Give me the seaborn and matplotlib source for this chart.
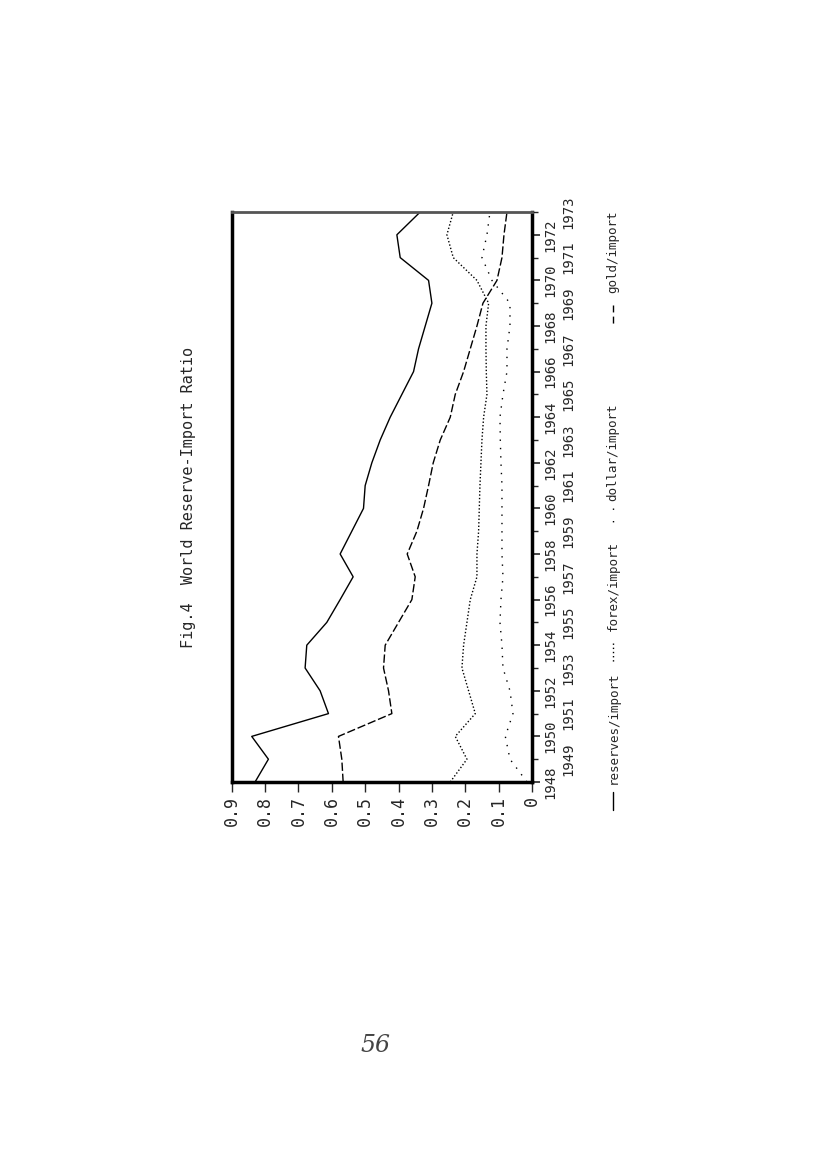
import numpy as np
import pandas as pd
import seaborn as sns
import matplotlib.pyplot as plt
from matplotlib.lines import Line2D

# data (chart printed sideways)
years = list(range(1948, 1974))
reserves = [0.83, 0.79, 0.84, 0.61, 0.635, 0.68, 0.675, 0.615, 0.575, 0.536, 0.575, 0.54, 0.505,
            0.50, 0.48, 0.455, 0.425, 0.39, 0.355, 0.34, 0.32, 0.30, 0.31, 0.395, 0.405, 0.335]
forex = [0.245, 0.195, 0.23, 0.17, 0.19, 0.21, 0.205, 0.195, 0.185, 0.165, 0.165, 0.16, 0.158,
         0.156, 0.153, 0.15, 0.145, 0.135, 0.137, 0.138, 0.138, 0.13, 0.165, 0.236, 0.255, 0.236]
dollar = [0.015, 0.066, 0.08, 0.057, 0.066, 0.087, 0.09, 0.096, 0.093, 0.087, 0.09, 0.09, 0.09,
          0.09, 0.093, 0.095, 0.096, 0.087, 0.075, 0.075, 0.066, 0.066, 0.12, 0.15, 0.135, 0.126]
gold = [0.566, 0.57, 0.58, 0.42, 0.43, 0.445, 0.44, 0.40, 0.36, 0.35, 0.374, 0.345, 0.325,
        0.31, 0.296, 0.275, 0.245, 0.23, 0.205, 0.185, 0.165, 0.147, 0.105, 0.09, 0.084, 0.075]

value_ticks = [0.9, 0.8, 0.7, 0.6, 0.5, 0.4, 0.3, 0.2, 0.1, 0]
value_labels = ['0.9', '0.8', '0.7', '0.6', '0.5', '0.4', '0.3', '0.2', '0.1', '0']
series_names = ['reserves/import', 'forex/import', 'dollar/import', 'gold/import']

df = pd.DataFrame({'year': years, 'reserves/import': reserves, 'forex/import': forex,
                   'dollar/import': dollar, 'gold/import': gold})

sns.set_style('white')
plt.rcParams['font.family'] = ['DejaVu Sans Mono', 'DejaVu Sans']

fig = plt.figure(figsize=(8.27, 11.70), dpi=100)
ax = fig.add_axes([231.7 / 827, 388 / 1170, 300.3 / 827, 570 / 1170])

styles = {
    'reserves/import': '-',
    'forex/import': (0, (1, 1.5)),
    'dollar/import': (0, (1, 5)),
    'gold/import': (0, (6, 2)),
}
# chart is turned sideways: value runs along x, year along y
for name in series_names:
    sns.lineplot(x=df[name], y=df['year'], ax=ax, color='black', lw=1.0,
                 linestyle=styles[name], sort=False, estimator=None)

ax.set_xlim(0.9, 0)
ax.set_ylim(1948, 1973)
ax.set_xlabel('')
ax.set_ylabel('')

for s in ax.spines.values():
    s.set_linewidth(2.5)
    s.set_color('black')
ax.spines['top'].set_color('#555555')
ax.spines['top'].set_linewidth(2)

ax.set_xticks(value_ticks)
ax.set_xticklabels(value_labels, rotation=90, fontsize=12)
ax.tick_params(axis='x', direction='out', length=7, width=1, pad=3, bottom=True)

ax.yaxis.tick_right()
even = [y for y in years if y % 2 == 0]
odd = [y for y in years if y % 2 == 1]
ax.set_yticks(even)
ax.set_yticklabels([str(y) for y in even], rotation=90, va='center', fontsize=10)
ax.set_yticks(odd, minor=True)
ax.set_yticklabels([str(y) for y in odd], minor=True, rotation=90, va='center', fontsize=10)
ax.tick_params(axis='y', which='major', direction='out', length=6, width=1.2, pad=2, right=True)
ax.tick_params(axis='y', which='minor', direction='out', length=4, width=1, pad=17, right=True)

fig.text(188 / 827, 1 - 497 / 1170, 'Fig.4  World Reserve-Import Ratio', rotation=90,
         ha='center', va='center', fontsize=11)

# legend written sideways below the chart
leg_x = 613 / 827
leg_items = [(728, 792, 810), (586, 643, 663), (452, 508, 526), (252, 305, 325)]
sample_styles = {
    'reserves/import': '-',
    'forex/import': (0, (1, 2)),
    'dollar/import': (0, (1, 8)),
    'gold/import': (0, (5, 3)),
}
for name, (ty, y1, y2) in zip(series_names, leg_items):
    fig.text(leg_x, 1 - ty / 1170, name, rotation=90, ha='center', va='center', fontsize=9)
    fig.add_artist(Line2D([leg_x, leg_x], [1 - y1 / 1170, 1 - y2 / 1170], color='black', lw=1.0,
                          linestyle=sample_styles[name], transform=fig.transFigure))

fig.text(375 / 827, 1 - 1045 / 1170, '56', fontsize=17, style='italic', family='DejaVu Serif',
         color='#444444', ha='center', va='center')

fig.savefig('out.png', dpi=100)
